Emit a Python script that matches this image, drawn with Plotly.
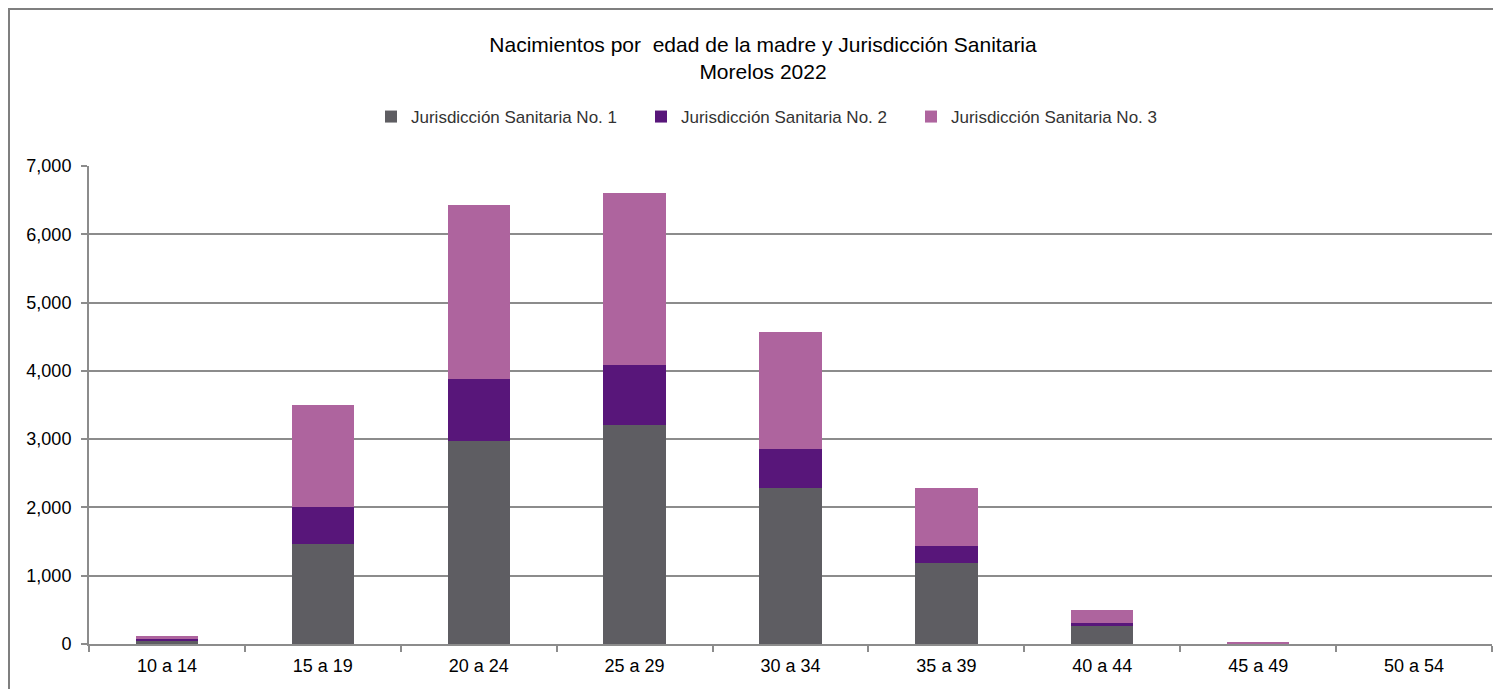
import plotly.graph_objects as go

categories = ["10 a 14", "15 a 19", "20 a 24", "25 a 29", "30 a 34", "35 a 39", "40 a 44", "45 a 49", "50 a 54"]
series_names = ["Jurisdicción Sanitaria No. 1", "Jurisdicción Sanitaria No. 2", "Jurisdicción Sanitaria No. 3"]
j1 = [45, 1460, 2970, 3210, 2285, 1190, 268, 10, 0]
j2 = [25, 545, 910, 880, 570, 250, 44, 2, 0]
j3 = [50, 1495, 2550, 2520, 1715, 840, 181, 12, 0]
colors = ["#5E5D62", "#58167A", "#AE649E"]

# page has an 8px body margin; work in figure coordinates
OFF = 8
W, H = 1501, 689
L, T = 89 - OFF, 166 - OFF
R = W - (1492 - OFF)
B = H - (644 - OFF)

fig = go.Figure()
for name, vals, c in zip(series_names, [j1, j2, j3], colors):
    fig.add_trace(go.Bar(x=categories, y=vals, name=name, marker=dict(color=c, line=dict(width=0))))

pw = W - L - R
ph = H - T - B
bottom = H - B
fig.update_layout(
    width=W, height=H,
    barmode="stack", bargap=0.6,
    plot_bgcolor="white", paper_bgcolor="white",
    margin=dict(l=L, r=R, t=T, b=B, autoexpand=False),
    font=dict(family="Liberation Sans", color="#000000", size=15),
    title=dict(text="Nacimientos por  edad de la madre y Jurisdicción Sanitaria<br>Morelos 2022",
               x=(763 - OFF) / W, xanchor="center", xref="container",
               y=1 - (52 - OFF) / H, yanchor="middle", yref="container",
               font=dict(size=21, family="Liberation Sans", color="#000000")),
    legend=dict(orientation="h", x=(776 - L - OFF) / pw, xanchor="center",
                y=1 + (bottom - (117 - OFF) - ph) / ph, yanchor="middle",
                font=dict(size=17, color="#333333", family="Liberation Sans"),
                entrywidth=225, traceorder="normal", itemwidth=30),
    xaxis=dict(showline=True, linecolor="#8C8C8C", linewidth=2, ticks="outside", tickson="boundaries",
               ticklen=6, tickcolor="#8C8C8C", tickwidth=2, showgrid=False, ticklabelstandoff=4,
               tickfont=dict(family="Liberation Sans", size=18, color="#000000")),
    yaxis=dict(range=[0, 7000], tickvals=list(range(0, 7001, 1000)), tickformat=",d",
               showline=True, linecolor="#8C8C8C", linewidth=2, ticks="outside", ticklen=6,
               tickcolor="#8C8C8C", tickwidth=2, gridcolor="#8C8C8C", gridwidth=2,
               ticklabelstandoff=6,
               zeroline=False, tickfont=dict(family="Liberation Sans", size=18, color="#000000")),
)

# outer chart border
fig.add_shape(type="rect", xref="paper", yref="paper",
              x0=(1 - L) / pw, x1=(W + 20 - L) / pw,
              y0=-(H + 20 - bottom) / ph, y1=(bottom - 1) / ph,
              line=dict(color="#7F7F7F", width=2), layer="below")

fig.write_html("out.html")
